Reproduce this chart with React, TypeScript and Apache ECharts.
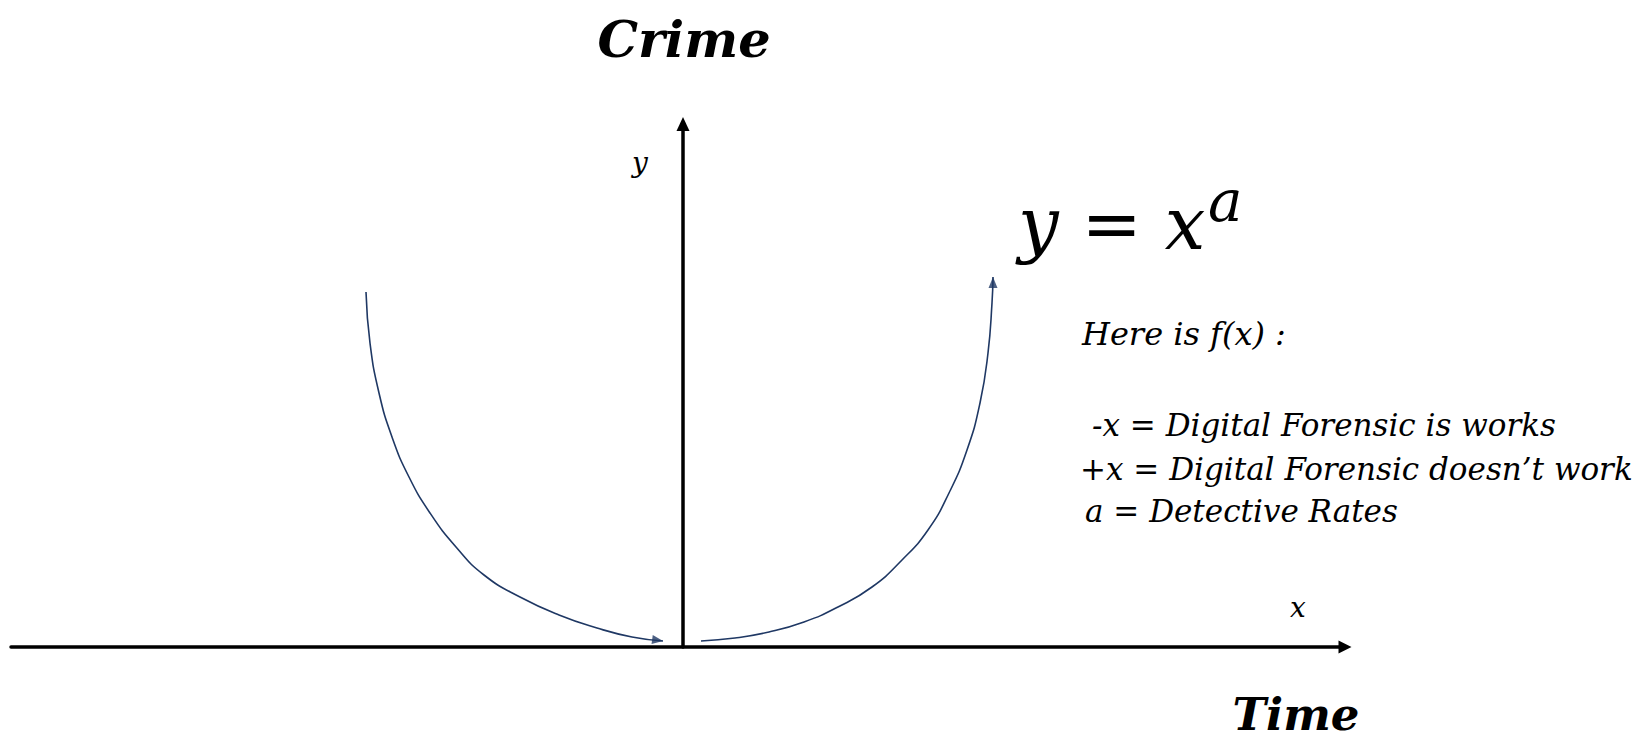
import React, { useEffect, useRef } from "react";
import * as echarts from "echarts";

// Curve (x: time units, y: crime units)
const leftCurveX = [-3.17, -3.13, -3.04, -2.91, -2.74, -2.53, -2.27, -1.99, -1.63, -1.24, -0.86, -0.51, -0.2];
const leftCurveY = [3.55, 3.04, 2.54, 2.1, 1.7, 1.34, 1.0, 0.72, 0.5, 0.32, 0.19, 0.1, 0.06];
const rightCurveX = [0.18, 0.52, 0.86, 1.21, 1.55, 1.89, 2.19, 2.45, 2.66, 2.84, 2.97, 3.05, 3.09, 3.1];
const rightCurveY = [0.06, 0.09, 0.15, 0.25, 0.4, 0.6, 0.87, 1.17, 1.54, 1.97, 2.44, 2.94, 3.44, 3.7];

const X_MIN = -6.72;
const X_MAX = 6.62;
const Y_MIN = 0;
const Y_MAX = 5.23;

const yAxisTitle = "Crime";
const xAxisTitle = "Time";
const yLetter = "y";
const xLetter = "x";
const formulaMain = "y = x";
const formulaExp = "a";
const fxHeading = "Here is f(x) :";
const legendLines = [
  "-x = Digital Forensic is works",
  "+x = Digital Forensic doesn\u2019t work",
  "a = Detective Rates",
];

export default function App() {
  const ref = useRef<HTMLDivElement>(null);
  useEffect(() => {
    const chart = echarts.init(ref.current!, null, { renderer: "svg" });
    const serif = "'DejaVu Serif', 'Liberation Serif', serif";
    const ink = "#1f3864";
    const zip = (xs: number[], ys: number[]) => xs.map((x, i) => [x, ys[i]]);
    const left = zip(leftCurveX, leftCurveY);
    const right = zip(rightCurveX, rightCurveY);

    const axisCommon = {
      type: "value",
      axisTick: { show: false },
      axisLabel: { show: false },
      splitLine: { show: false },
    };

    const txt = (
      text: string,
      x: number,
      y: number,
      size: number,
      opts: any = {}
    ) => ({
      type: "text",
      x,
      y,
      silent: true,
      style: {
        text,
        fill: "#000",
        fontFamily: serif,
        fontStyle: "italic",
        fontSize: size,
        fontWeight: opts.weight || "normal",
        align: opts.align || "left",
        verticalAlign: "middle",
      },
    });

    const option: any = {
      animation: false,
      grid: { left: 11, right: 293, top: 124, bottom: 96 },
      xAxis: {
        ...axisCommon,
        min: X_MIN,
        max: X_MAX,
        axisLine: {
          show: true,
          onZero: true,
          symbol: ["none", "triangle"],
          symbolSize: [13, 13],
          lineStyle: { color: "#000", width: 3.5 },
        },
      },
      yAxis: {
        ...axisCommon,
        min: Y_MIN,
        max: Y_MAX,
        axisLine: {
          show: true,
          onZero: true,
          symbol: ["none", "triangle"],
          symbolSize: [13, 14],
          lineStyle: { color: "#000", width: 3.5 },
        },
      },
      series: [
        {
          type: "line",
          data: left,
          smooth: 0.5,
          showSymbol: false,
          silent: true,
          lineStyle: { color: ink, width: 1.6 },
        },
        {
          type: "line",
          data: right,
          smooth: 0.5,
          showSymbol: false,
          silent: true,
          lineStyle: { color: ink, width: 1.6 },
        },
        {
          type: "scatter",
          symbol: "triangle",
          symbolSize: [9, 11],
          silent: true,
          itemStyle: { color: ink },
          data: [
            { value: left[left.length - 1], symbolRotate: -98, symbolOffset: [-5.4, -0.8] },
            { value: right[right.length - 1], symbolRotate: 0, symbolOffset: [0, 5.5] },
          ],
        },
      ],
      graphic: [
        txt(yAxisTitle, 684, 39, 51, { weight: "bold", align: "center" }),
        txt(xAxisTitle, 1296, 714, 45, { weight: "bold", align: "center" }),
        txt(yLetter, 640, 162, 28, { align: "center" }),
        txt(xLetter, 1298, 607, 28, { align: "center" }),
        txt(formulaMain, 1018, 224, 72),
        txt(formulaExp, 1208, 201, 58),
        txt(fxHeading, 1082, 334, 32),
        txt(legendLines[0], 1092, 425, 31),
        txt(legendLines[1], 1080, 469, 31),
        txt(legendLines[2], 1085, 511, 31),
      ],
    };
    chart.setOption(option);
    return () => chart.dispose();
  }, []);
  return (
    <div
      ref={ref}
      style={{ position: "absolute", left: 0, top: 0, width: 1638, height: 743, background: "#fff" }}
    />
  );
}
